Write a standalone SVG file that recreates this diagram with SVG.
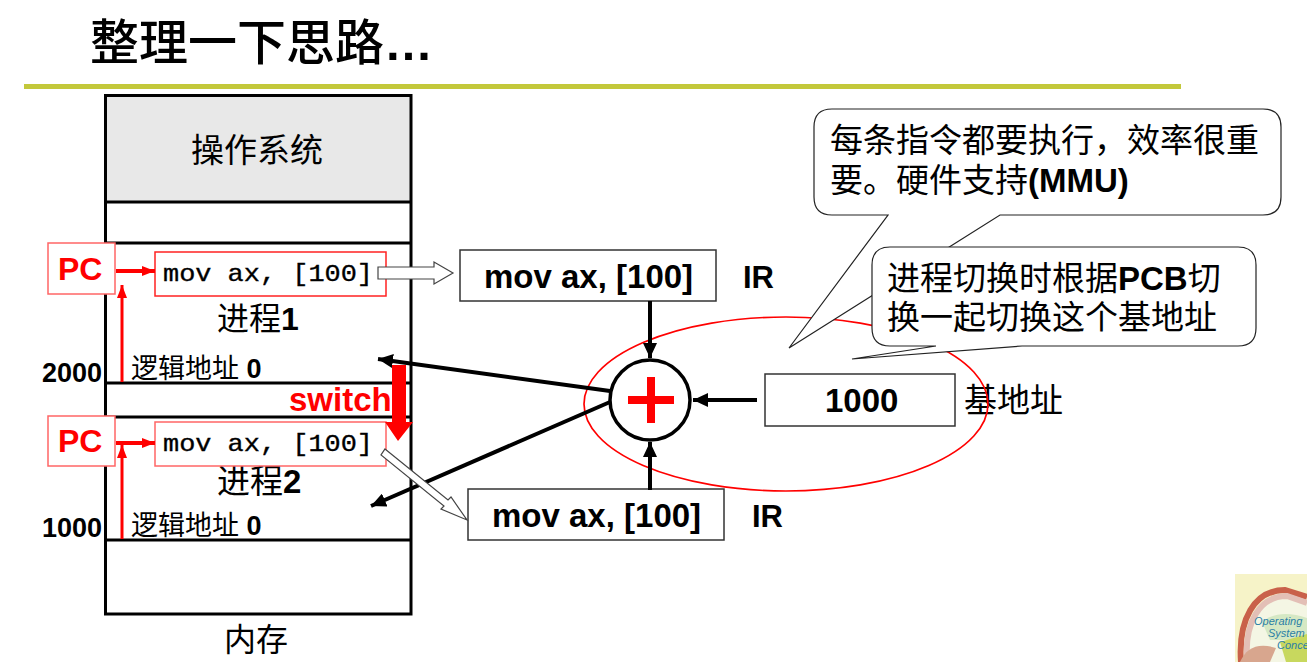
<svg xmlns="http://www.w3.org/2000/svg" width="1307" height="662" viewBox="0 0 1307 662">
<style>
text{font-family:"Liberation Sans","Noto Sans CJK SC",sans-serif;fill:#000}
.b{font-weight:700}
.red{fill:#f00}
.mono{font-family:"Liberation Mono","Noto Sans CJK SC",monospace;font-size:24px;stroke:#000;stroke-width:.35}
.mem{stroke:#000;stroke-width:3;fill:none}
.box{fill:#fff;stroke:#333;stroke-width:1.5}
.pc{fill:#fff;stroke:#f66;stroke-width:1.5}
.code{fill:#fff;stroke:#f22;stroke-width:1.5}
.k{stroke:#000;stroke-width:4;fill:none}
.r{stroke:#f00;stroke-width:4;fill:none}
.rt{stroke:#f00;stroke-width:3;fill:none}
.hollow{fill:#fff;stroke:#444;stroke-width:1.2}
.call{fill:#fff;stroke:#222;stroke-width:1.2}
.logo{font-size:11px;font-style:italic;fill:#2b7fa6}
</style>
<defs>
<marker id="ka" markerUnits="userSpaceOnUse" markerWidth="16" markerHeight="14" refX="15" refY="7" orient="auto"><path d="M0 0L15 7L0 14z" fill="#000"/></marker>
<marker id="ra" markerUnits="userSpaceOnUse" markerWidth="14" markerHeight="12" refX="13" refY="6" orient="auto"><path d="M0 1L13 6L0 11z" fill="#f00"/></marker>
</defs>
<rect width="1307" height="662" fill="#fff"/>
<g id="title"><text x="90" y="60" font-size="49" font-weight="500">整理一下思路<tspan class="b">…</tspan></text><rect x="24" y="84" width="1157" height="5" fill="#c3c83b"/></g>
<g id="memory">
<rect x="105.500" y="95.500" width="305.500" height="106.500" fill="#e8e8e8"/>
<rect x="105.500" y="95.500" width="305.500" height="518.500" class="mem"/>
<path class="mem" d="M105 202H411M105 243H411M105 383H411M105 417H411M105 540H411"/>
<text x="191" y="162" font-size="33">操作系统</text>
<text x="224" y="651" font-size="32">内存</text>
</g>
<g id="process1">
<text x="217" y="330" font-size="32">进程<tspan class="b">1</tspan></text>
<text x="131" y="378" font-size="27">逻辑地址 <tspan class="b">0</tspan></text>
<text x="42" y="382" font-size="27" class="b">2000</text>
</g>
<g id="process2">
<text x="217" y="493" font-size="33">进程<tspan class="b">2</tspan></text>
<text x="131" y="535" font-size="27">逻辑地址 <tspan class="b">0</tspan></text>
<text x="42" y="537" font-size="27" class="b">1000</text>
</g>
<g id="pc1"><rect x="48" y="243" width="67" height="51" class="pc"/><text x="58" y="280" font-size="32" class="b red">PC</text></g>
<g id="pc2"><rect x="48" y="416" width="67" height="50" class="pc"/><text x="58" y="452" font-size="32" class="b red">PC</text></g>
<g id="code1"><rect x="155" y="252" width="231" height="44" class="code"/><text x="163" y="281" class="mono" textLength="210" lengthAdjust="spacingAndGlyphs">mov ax, [100]</text></g>
<g id="code2"><rect x="155" y="422" width="231" height="44" class="pc"/><text x="163" y="451" class="mono" textLength="210" lengthAdjust="spacingAndGlyphs">mov ax, [100]</text></g>
<g id="ir1"><rect x="460" y="250" width="256" height="51" class="box"/><text x="484" y="288" font-size="33" class="b">mov ax, [100]</text><text x="743" y="288" font-size="31" class="b">IR</text></g>
<g id="ir2"><rect x="468" y="489" width="256" height="51" class="box"/><text x="492" y="527" font-size="33" class="b">mov ax, [100]</text><text x="752" y="527" font-size="31" class="b">IR</text></g>
<g id="base"><rect x="765" y="374" width="190" height="52" class="box"/><text x="825" y="412" font-size="33" class="b">1000</text><text x="964" y="412" font-size="33">基地址</text></g>
<ellipse id="highlight" cx="786" cy="404" rx="202" ry="87" fill="none" stroke="#f00" stroke-width="1.700"/>
<g id="connectors">
<path class="k" marker-end="url(#ka)" d="M650 301V358"/>
<path class="k" marker-end="url(#ka)" d="M650 490V442"/>
<path class="k" marker-end="url(#ka)" d="M757 400H693"/>
<path class="k" marker-end="url(#ka)" d="M610 391L378 359"/>
<path class="k" marker-end="url(#ka)" d="M610 402L371 506"/>
<path class="r" marker-end="url(#ra)" d="M116 271H155"/>
<path class="r" marker-end="url(#ra)" d="M116 443H155"/>
<path class="rt" marker-end="url(#ra)" d="M122 382V285"/>
<path class="rt" marker-end="url(#ra)" d="M122 539V445"/>
<path class="hollow" d="M378 267H434V262L453 273L434 284V279H378z"/>
<path class="hollow" d="M385 449L448 500L451 497L467 520L441 509L444 506L381 455z"/>
<path d="M392 365H406V422H413L398 441L385 422H392z" fill="#f00"/>
</g>
<g id="adder"><circle cx="650" cy="400" r="40" fill="#fff" stroke="#000" stroke-width="3.500"/><path d="M647 377H655V396H674V404H655V423H647V404H628V396H647z" fill="#f00"/></g>
<text x="289" y="411" font-size="33" class="b red">switch</text>
<g id="callout1">
<path class="call" d="M832 109H1263Q1281 109 1281 127V197Q1281 215 1263 215H1000L789 348L888 215H832Q814 215 814 197V127Q814 109 832 109z"/>
<text x="830" y="152" font-size="33">每条指令都要执行，效率很重</text>
<text x="830" y="192" font-size="33">要。硬件支持<tspan class="b">(MMU)</tspan></text>
</g>
<g id="callout2">
<path class="call" d="M890 247H1238Q1256 247 1256 265V328Q1256 346 1238 346H1022L852 359L936 346H890Q872 346 872 328V265Q872 247 890 247z"/>
<text x="887" y="290" font-size="33">进程切换时根据<tspan class="b">PCB</tspan>切</text>
<text x="887" y="329" font-size="33">换一起切换这个基地址</text>
</g>
<g id="logo">
<rect x="1235" y="574" width="72" height="88" fill="#f6f3c8"/>
<path d="M1250 662C1246 620 1262 596 1290 596L1307 600V662z" fill="#f4f6e4"/>
<path d="M1262 622C1274 612 1290 612 1307 618V640H1270z" fill="#d5e8c4"/>
<path d="M1280 642L1307 634V662H1286z" fill="#c8d85e"/>
<path d="M1241 662C1238 620 1254 590 1285 590L1307 597" fill="none" stroke="#c9614a" stroke-width="6"/>
<path d="M1247 662C1244 622 1260 596 1287 596L1307 603" fill="none" stroke="#e3bfb6" stroke-width="6"/>
<path d="M1240 662C1246 648 1258 642 1276 648L1270 662z" fill="#d8a68e"/>
<text x="1254" y="625" class="logo">Operating</text>
<text x="1268" y="637" class="logo">System</text>
<text x="1277" y="649" class="logo">Conce</text>
</g>
</svg>
